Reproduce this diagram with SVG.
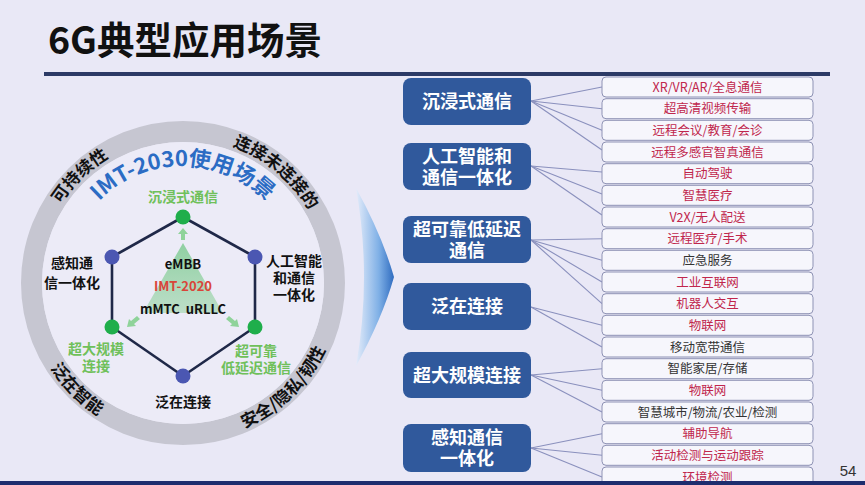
<svg xmlns="http://www.w3.org/2000/svg" width="865" height="485" viewBox="0 0 865 485">
<defs>
<style>
.cjk{font-family:"Noto Sans CJK SC","Liberation Sans",sans-serif;font-weight:700}
.cat rect{fill:#30599c}
.cat text{fill:#ffffff;font-size:18px;text-anchor:middle}
.item rect{fill:#f6f6fc;stroke:#8e92b4;stroke-width:1}
.item text{font-size:12.5px;text-anchor:middle;font-weight:400}
.red{fill:#c0264c}
.blk{fill:#333333}
.conn line{stroke:#8a90bd;stroke-width:1.1}
.hex line{stroke:#1f2848;stroke-width:2.6}
.gn{fill:#1fae4b}
.bn{fill:#4b57b2}
.glab{fill:#6fc05a;font-size:14px;text-anchor:middle}
.klab{fill:#111111;font-size:14px;text-anchor:middle}
.ring{fill:#111111;font-size:17px}
</style>
<linearGradient id="chev" x1="0" y1="0" x2="1" y2="0">
<stop offset="0" stop-color="#e4ecfa"/>
<stop offset="0.6" stop-color="#7fb0e6"/>
<stop offset="1" stop-color="#2f6cc0"/>
</linearGradient>
<linearGradient id="tri" x1="0" y1="0" x2="0" y2="1">
<stop offset="0" stop-color="#7fcb93"/>
<stop offset="1" stop-color="#b5dcc0"/>
</linearGradient>
<path id="topR" d="M 37.5,283 A 145.5 145.5 0 1 1 328.5,283 A 145.5 145.5 0 1 1 37.5,283"/>
<path id="botR" d="M 25.5,283 A 157.5 157.5 0 1 0 340.5,283 A 157.5 157.5 0 1 0 25.5,283"/>
<path id="imtR" d="M 66,283 A 117 117 0 1 1 300,283 A 117 117 0 1 1 66,283"/>
</defs>
<rect x="0" y="0" width="865" height="485" fill="#e9e8f6"/>

<g id="title">
<text x="48" y="54" class="cjk" font-size="37.5" font-weight="900" fill="#111111">6G典型应用场景</text>
<rect x="44" y="72" width="786" height="4" fill="#2c3a66"/>
</g>

<g id="usage-ring">
<circle cx="183" cy="283" r="151.5" fill="none" stroke="#c6c6d1" stroke-width="21"/>
<circle cx="183" cy="283" r="141" fill="#ecebf7"/>
<text class="cjk ring"><textPath href="#topR" startOffset="12.8%" text-anchor="middle">可持续性</textPath></text>
<text class="cjk ring"><textPath href="#topR" startOffset="36.1%" text-anchor="middle">连接未连接的</textPath></text>
<text class="cjk ring"><textPath href="#botR" startOffset="12.5%" text-anchor="middle">泛在智能</textPath></text>
<text class="cjk ring"><textPath href="#botR" startOffset="37.2%" text-anchor="middle">安全/隐私/韧性</textPath></text>
<text class="cjk" font-size="22" fill="#2b6cc4"><textPath href="#imtR" startOffset="25%" text-anchor="middle">IMT-2030使用场景</textPath></text>
</g>

<g id="imt2020">
<path d="M183,243 L223,313 L143,313 Z" fill="url(#tri)" opacity="0.85"/>
<path d="M183,228 L188,234 L185,234 L185,240 L181,240 L181,234 L178,234 Z" fill="#8fd39a"/>
<path d="M127,327 L129,319 L131,321 L137,316 L140,319 L134,324 L136,326 Z" fill="#8fd39a"/>
<path d="M239,327 L237,319 L235,321 L229,316 L226,319 L232,324 L230,326 Z" fill="#8fd39a"/>
<text x="183" y="269" class="cjk" font-size="13" fill="#111111" text-anchor="middle">eMBB</text>
<text x="183" y="291" class="cjk" font-size="13" fill="#d9453a" text-anchor="middle">IMT-2020</text>
<text x="183" y="314" class="cjk" font-size="13" fill="#111111" text-anchor="middle" xml:space="preserve">mMTC  uRLLC</text>
</g>

<g id="hexagon" class="hex">
<line x1="183" y1="217" x2="112" y2="257"/>
<line x1="183" y1="217" x2="255" y2="257"/>
<line x1="112" y1="257" x2="112" y2="327"/>
<line x1="255" y1="257" x2="255" y2="327"/>
<line x1="112" y1="327" x2="183" y2="376"/>
<line x1="255" y1="327" x2="183" y2="376"/>
</g>
<g id="node-immersive"><circle cx="183" cy="217" r="7.5" class="gn"/><text x="183" y="202" class="cjk glab">沉浸式通信</text></g>
<g id="node-sensing"><circle cx="112" cy="257" r="7.5" class="bn"/><text x="72" y="268" class="cjk klab">感知通</text><text x="72" y="288" class="cjk klab">信一体化</text></g>
<g id="node-ai"><circle cx="255" cy="257" r="7.5" class="bn"/><text x="294" y="266" class="cjk klab">人工智能</text><text x="294" y="283" class="cjk klab">和通信</text><text x="294" y="300" class="cjk klab">一体化</text></g>
<g id="node-massive"><circle cx="112" cy="327" r="7.5" class="gn"/><text x="96" y="354" class="cjk glab">超大规模</text><text x="96" y="371" class="cjk glab">连接</text></g>
<g id="node-urllc"><circle cx="255" cy="327" r="7.5" class="gn"/><text x="256" y="356" class="cjk glab">超可靠</text><text x="256" y="373" class="cjk glab">低延迟通信</text></g>
<g id="node-ubiq"><circle cx="183" cy="376" r="7.5" class="bn"/><text x="183" y="407" class="cjk klab">泛在连接</text></g>

<g id="chevron">
<path d="M356,188 Q382,235 394,277 Q382,319 356,366 Q372,277 356,188 Z" fill="url(#chev)"/>
</g>

<g id="connectors" class="conn">
<line x1="531" y1="101" x2="602" y2="87"/>
<line x1="531" y1="101" x2="602" y2="108.7"/>
<line x1="531" y1="101" x2="602" y2="130.3"/>
<line x1="531" y1="101" x2="602" y2="150"/>
<line x1="531" y1="166" x2="602" y2="172"/>
<line x1="531" y1="166" x2="602" y2="194"/>
<line x1="531" y1="166" x2="602" y2="215"/>
<line x1="531" y1="240" x2="602" y2="238.7"/>
<line x1="531" y1="240" x2="602" y2="260.3"/>
<line x1="531" y1="240" x2="602" y2="282"/>
<line x1="531" y1="240" x2="602" y2="303.7"/>
<line x1="531" y1="307" x2="602" y2="325.3"/>
<line x1="531" y1="307" x2="602" y2="347"/>
<line x1="531" y1="375" x2="602" y2="368.7"/>
<line x1="531" y1="375" x2="602" y2="390.3"/>
<line x1="531" y1="375" x2="602" y2="412"/>
<line x1="531" y1="448" x2="602" y2="433.7"/>
<line x1="531" y1="448" x2="602" y2="455.3"/>
<line x1="531" y1="448" x2="602" y2="477"/>
</g>

<g id="cat-immersive" class="cat cjk"><rect x="403" y="78" width="128" height="47" rx="8"/><text x="467" y="108">沉浸式通信</text></g>
<g id="cat-ai" class="cat cjk"><rect x="403" y="143" width="128" height="47" rx="8"/><text x="467" y="163">人工智能和</text><text x="467" y="184">通信一体化</text></g>
<g id="cat-urllc" class="cat cjk"><rect x="403" y="216" width="128" height="47" rx="8"/><text x="467" y="236">超可靠低延迟</text><text x="467" y="257">通信</text></g>
<g id="cat-ubiq" class="cat cjk"><rect x="403" y="283" width="128" height="47" rx="8"/><text x="467" y="313">泛在连接</text></g>
<g id="cat-massive" class="cat cjk"><rect x="403" y="352" width="128" height="46" rx="8"/><text x="467" y="382">超大规模连接</text></g>
<g id="cat-sensing" class="cat cjk"><rect x="403" y="424" width="128" height="48" rx="8"/><text x="467" y="444">感知通信</text><text x="467" y="465">一体化</text></g>

<g id="items" class="cjk">
<g id="item1" class="item"><rect x="602" y="77" width="211" height="20" rx="4"/><text x="707.5" y="91.5" class="red">XR/VR/AR/全息通信</text></g>
<g id="item2" class="item"><rect x="602" y="98.7" width="211" height="20" rx="4"/><text x="707.5" y="113.2" class="red">超高清视频传输</text></g>
<g id="item3" class="item"><rect x="602" y="120.3" width="211" height="20" rx="4"/><text x="707.5" y="134.8" class="red">远程会议/教育/会诊</text></g>
<g id="item4" class="item"><rect x="602" y="142" width="211" height="20" rx="4"/><text x="707.5" y="156.5" class="red">远程多感官智真通信</text></g>
<g id="item5" class="item"><rect x="602" y="163.7" width="211" height="20" rx="4"/><text x="707.5" y="178.2" class="red">自动驾驶</text></g>
<g id="item6" class="item"><rect x="602" y="185.3" width="211" height="20" rx="4"/><text x="707.5" y="199.8" class="red">智慧医疗</text></g>
<g id="item7" class="item"><rect x="602" y="207" width="211" height="20" rx="4"/><text x="707.5" y="221.5" class="red">V2X/无人配送</text></g>
<g id="item8" class="item"><rect x="602" y="228.7" width="211" height="20" rx="4"/><text x="707.5" y="243.2" class="red">远程医疗/手术</text></g>
<g id="item9" class="item"><rect x="602" y="250.3" width="211" height="20" rx="4"/><text x="707.5" y="264.8" class="blk">应急服务</text></g>
<g id="item10" class="item"><rect x="602" y="272" width="211" height="20" rx="4"/><text x="707.5" y="286.5" class="red">工业互联网</text></g>
<g id="item11" class="item"><rect x="602" y="293.7" width="211" height="20" rx="4"/><text x="707.5" y="308.2" class="red">机器人交互</text></g>
<g id="item12" class="item"><rect x="602" y="315.3" width="211" height="20" rx="4"/><text x="707.5" y="329.8" class="red">物联网</text></g>
<g id="item13" class="item"><rect x="602" y="337" width="211" height="20" rx="4"/><text x="707.5" y="351.5" class="blk">移动宽带通信</text></g>
<g id="item14" class="item"><rect x="602" y="358.7" width="211" height="20" rx="4"/><text x="707.5" y="373.2" class="blk">智能家居/存储</text></g>
<g id="item15" class="item"><rect x="602" y="380.3" width="211" height="20" rx="4"/><text x="707.5" y="394.8" class="red">物联网</text></g>
<g id="item16" class="item"><rect x="602" y="402" width="211" height="20" rx="4"/><text x="707.5" y="416.5" class="blk">智慧城市/物流/农业/检测</text></g>
<g id="item17" class="item"><rect x="602" y="423.7" width="211" height="20" rx="4"/><text x="707.5" y="438.2" class="red">辅助导航</text></g>
<g id="item18" class="item"><rect x="602" y="445.3" width="211" height="20" rx="4"/><text x="707.5" y="459.8" class="red">活动检测与运动跟踪</text></g>
<g id="item19" class="item"><rect x="602" y="467" width="211" height="20" rx="4"/><text x="707.5" y="481.5" class="red">环境检测</text></g>
</g>

<text x="848" y="476" font-family="Liberation Sans, sans-serif" font-size="15" fill="#333333" text-anchor="middle">54</text>
<rect x="0" y="481" width="865" height="4" fill="#1e2d6e"/>
</svg>
